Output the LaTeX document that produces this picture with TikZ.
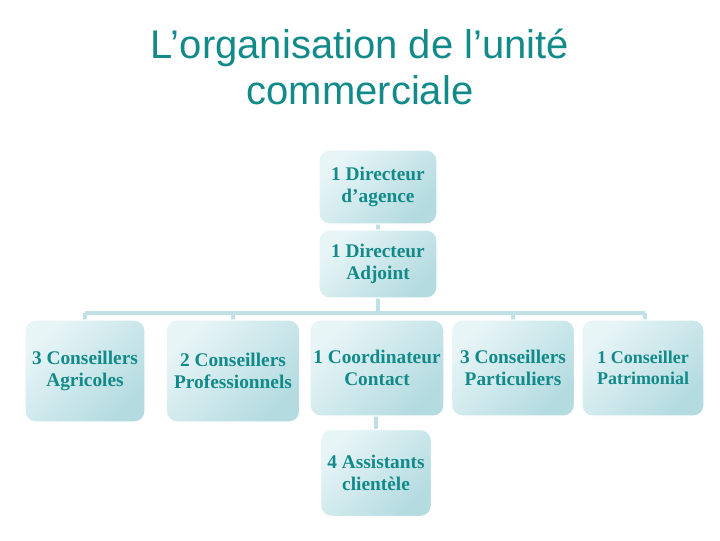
\documentclass[tikz,border=0pt]{standalone}
\usepackage{fontspec}
\setmainfont{Liberation Serif}
\newfontfamily\titlefont{Liberation Sans}
\definecolor{teal1}{HTML}{138A8A}
\definecolor{boxa}{HTML}{E8F5F7}
\definecolor{boxb}{HTML}{B3DBE0}
\definecolor{linec}{HTML}{BFE0E4}
\begin{document}
\begin{tikzpicture}[x=0.75pt,y=-0.75pt,
  box/.style={rounded corners=8pt,draw=white,line width=0.8pt,left color=boxa,right color=boxb,shading angle=45,
    text=teal1,font=\bfseries\fontsize{14.5}{17}\selectfont,align=center,inner sep=1pt},
  conn/.style={draw=linec,line width=3pt}]
\useasboundingbox (0,0) rectangle (720,540);
\node[text=teal1,font=\titlefont\fontsize{30}{34}\selectfont,align=center] (title) at (360,67) {L’organisation de l’unité\\commerciale};
\coordinate (busL) at (85,313);
\coordinate (busR) at (645,313);
\draw[conn] (busL) -- (busR);
\draw[conn] (378,224) -- (378,313);
\draw[conn] (85,313) -- (85,320);
\draw[conn] (233,313) -- (233,320);
\draw[conn] (513,313) -- (513,320);
\draw[conn] (645,313) -- (645,320);
\draw[conn] (376,416) -- (376,430);
\node[box,minimum width=88.5pt,minimum height=55.5pt] (dir) at (378,187) {1 Directeur\\d’agence};
\node[box,minimum width=88.5pt,minimum height=51pt] (adj) at (378,264) {1 Directeur\\Adjoint};
\node[box,minimum width=90pt,minimum height=76.5pt] (agr) at (85,371) {3 Conseillers\\Agricoles};
\node[box,minimum width=100pt,minimum height=76.5pt] (pro) at (233,371) {2 Conseillers\\Professionnels};
\node[box,minimum width=100.5pt,minimum height=72pt] (coo) at (377,368) {1 Coordinateur\\Contact};
\node[box,minimum width=92pt,minimum height=72pt] (par) at (513,368) {3 Conseillers\\Particuliers};
\node[box,minimum width=91.5pt,minimum height=72pt,font=\bfseries\fontsize{13.5}{16}\selectfont] (pat) at (643,368) {1 Conseiller\\Patrimonial};
\node[box,minimum width=83pt,minimum height=65pt] (ass) at (376,473) {4 Assistants\\clientèle};
\end{tikzpicture}
\end{document}
